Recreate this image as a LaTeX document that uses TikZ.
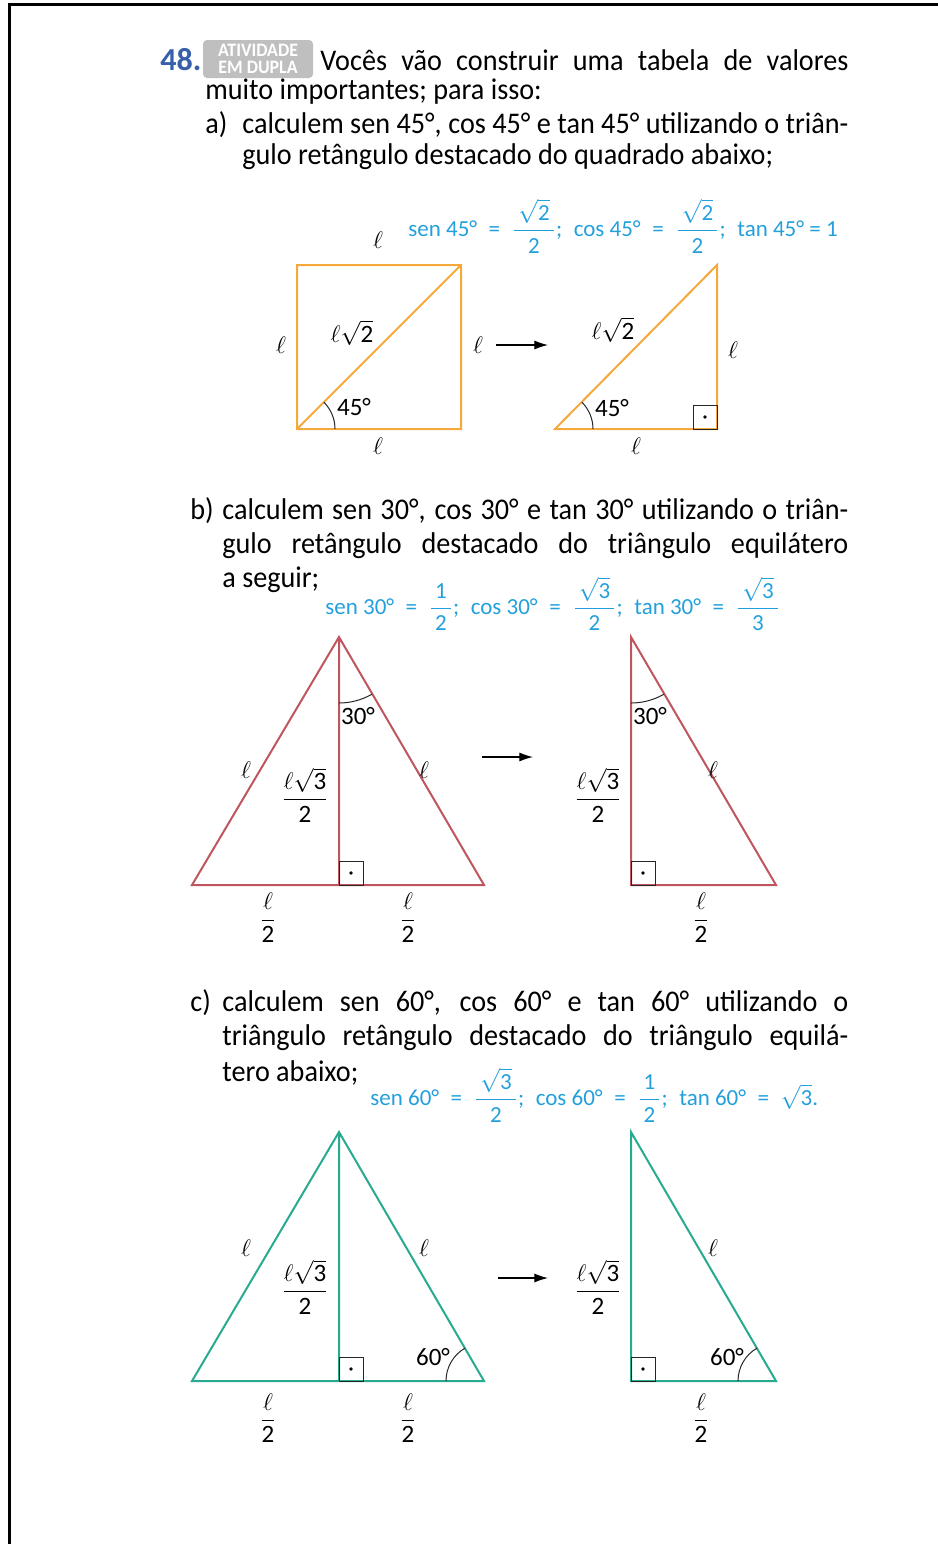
\documentclass[tikz,border=0pt]{standalone}
\usepackage{amsmath,amssymb}
\usepackage{fontspec}
\setmainfont{Carlito}
\newfontfamily\bodyfont{Carlito}[FakeStretch=0.94]
\usepackage{xcolor}
\usetikzlibrary{arrows.meta,positioning,calc}

\definecolor{ansblue}{RGB}{35,160,220}
\definecolor{numblue}{RGB}{55,95,170}
\definecolor{sqorange}{RGB}{245,168,60}
\definecolor{trired}{RGB}{190,85,95}
\definecolor{trigreen}{RGB}{40,170,145}
\newcommand{\jline}[2]{\makebox[#1][s]{\spaceskip=0.2em plus 1fil\relax #2}}
\newcommand{\ansfrac}[2]{\ensuremath{\dfrac{\,\text{#1}\,}{\text{#2}}}}
\newcommand{\rootof}[1]{\ensuremath{\sqrt{\text{#1}}}}
\newcommand{\eqsep}{\enspace=\enspace}
\newcommand{\halfl}{$\dfrac{\ell}{\text{2}}$}
\newcommand{\heightl}{$\dfrac{\ell\sqrt{\text{3}}}{\text{2}}$}

\begin{document}
\begin{tikzpicture}[x=0.5pt, y=-0.5pt,
    body/.style={anchor=west, inner sep=0pt, font=\bodyfont\fontsize{15}{18}\selectfont},
    answer/.style={anchor=west, inner sep=0pt, text=ansblue, font=\fontsize{11.5}{13}\selectfont},
    side/.style={inner sep=0pt, font=\fontsize{12.5}{14}\selectfont},
    square/.style={draw=sqorange, line width=1pt},
    redtri/.style={draw=trired, line width=1pt},
    greentri/.style={draw=trigreen, line width=1pt},
    anglearc/.style={draw=black!85, line width=0.5pt},
    rmark/.style={draw=black!85, line width=0.5pt},
    arrow/.style={-{Latex[length=2.4mm,width=1.6mm]}, line width=0.6pt}
]
\useasboundingbox (0,0) rectangle (938,1544);
\draw[line width=1.5pt] (9,1544) -- (9,4) -- (938,4);

\node[body, text=numblue, font=\fontsize{16}{18}\selectfont\bfseries] (num) at (160,60) {48.};
\node[fill=gray!50, rounded corners=2pt, minimum width=55pt, minimum height=19pt, inner sep=0.5pt,
      align=center, text=white, font=\bodyfont\fontsize{9.5}{8.5}\selectfont\bfseries] (badge) at (258,59) {ATIVIDADE\\EM DUPLA};
\node[body] (la1) at (320,60)  {\jline{264pt}{Vocês vão construir uma tabela de valores}};
\node[body] (la2) at (205,92)  {muito importantes; para isso:};
\node[body] (la3) at (205,125) {a)};
\node[body] (la4) at (242,125) {\jline{303pt}{calculem sen 45°, cos 45° e tan 45° utilizando o triân-}};
\node[body] (la5) at (242,157) {gulo retângulo destacado do quadrado abaixo;};
\node[answer] (ansa) at (408,226) {sen 45°\eqsep\ansfrac{\rootof{2}}{2};\enspace cos 45°\eqsep\ansfrac{\rootof{2}}{2};\enspace tan 45° = 1};

\coordinate (sqA) at (297,429);
\coordinate (sqB) at (461,429);
\coordinate (sqC) at (461,265);
\coordinate (sqD) at (297,265);
\draw[square] (sqA) -- (sqB) -- (sqC) -- (sqD) -- cycle (sqA) -- (sqC);
\draw[anglearc] (sqA) ++(19pt,0) arc[start angle=0, end angle=45, radius=19pt];
\node[side] (sqtop) at (378,240) {$\ell$};
\node[side] (sqleft) at (281,345) {$\ell$};
\node[side] (sqdiag) at (352,333) {$\ell\sqrt{\text{2}}$};
\node[side] (sqright) at (478,345) {$\ell$};
\node[side] (sqang) at (354,407) {45°};
\node[side] (sqbot) at (378,446) {$\ell$};

\coordinate (arA1) at (496,345);
\coordinate (arA2) at (548,345);
\draw[arrow] (arA1) -- (arA2);

\coordinate (tA) at (555,429);
\coordinate (tB) at (717,429);
\coordinate (tC) at (717,265);
\draw[square] (tA) -- (tB) -- (tC) -- cycle;
\draw[anglearc] (tA) ++(19pt,0) arc[start angle=0, end angle=45, radius=19pt];
\node[side] (tdiag) at (613,330) {$\ell\sqrt{\text{2}}$};
\node[side] (tright) at (733,350) {$\ell$};
\node[side] (tang) at (612,408) {45°};
\node[side] (tbot) at (636,446) {$\ell$};

\node[body] (lb1) at (190,511) {b)};
\node[body] (lb2) at (222,511) {\jline{313pt}{calculem sen 30°, cos 30° e tan 30° utilizando o triân-}};
\node[body] (lb3) at (222,546) {\jline{313pt}{gulo retângulo destacado do triângulo equilátero}};
\node[body] (lb4) at (222,580) {a seguir;};
\node[answer] (ansb) at (325,604) {sen 30°\eqsep\ansfrac{1}{2};\enspace cos 30°\eqsep\ansfrac{\rootof{3}}{2};\enspace tan 30°\eqsep\ansfrac{\rootof{3}}{3}};

\coordinate (bA) at (192,885);
\coordinate (bB) at (484,885);
\coordinate (bT) at (339,637);
\coordinate (bH) at (339,885);
\draw[redtri] (bA) -- (bB) -- (bT) -- cycle (bT) -- (bH);
\draw[anglearc] (bT) ++(-90:33pt) arc[start angle=-90, end angle=-60, radius=33pt];
\node[side] (bl1) at (246,770) {$\ell$};
\node[side] (bl2) at (424,770) {$\ell$};
\node[side] (bh) at (305,795) {\heightl};
\node[side] (bang) at (358,716) {30°};
\node[side] (bhalf1) at (268,918) {\halfl};
\node[side] (bhalf2) at (408,918) {\halfl};

\coordinate (arB1) at (482,757);
\coordinate (arB2) at (533,757);
\draw[arrow] (arB1) -- (arB2);

\coordinate (rbT) at (631,637);
\coordinate (rbH) at (631,885);
\coordinate (rbB) at (776,885);
\draw[redtri] (rbH) -- (rbB) -- (rbT) -- cycle;
\draw[anglearc] (rbT) ++(-90:33pt) arc[start angle=-90, end angle=-60, radius=33pt];
\node[side] (rbang) at (650,716) {30°};
\node[side] (rbl) at (713,770) {$\ell$};
\node[side] (rbh) at (598,795) {\heightl};
\node[side] (rbhalf) at (701,918) {\halfl};

\node[body] (lc1) at (190,1003) {c)};
\node[body] (lc2) at (222,1003) {\jline{313pt}{calculem sen 60°, cos 60° e tan 60° utilizando o}};
\node[body] (lc3) at (222,1038) {\jline{313pt}{triângulo retângulo destacado do triângulo equilá-}};
\node[body] (lc4) at (222,1073) {tero abaixo;};
\node[answer] (ansc) at (370,1095) {sen 60°\eqsep\ansfrac{\rootof{3}}{2};\enspace cos 60°\eqsep\ansfrac{1}{2};\enspace tan 60°\eqsep\rootof{3}.};

\coordinate (cA) at (192,1381);
\coordinate (cB) at (484,1381);
\coordinate (cT) at (339,1132);
\coordinate (cH) at (339,1381);
\draw[greentri] (cA) -- (cB) -- (cT) -- cycle (cT) -- (cH);
\draw[anglearc] (cB) ++(-19pt,0) arc[start angle=180, end angle=120, radius=19pt];
\node[side] (cl1) at (246,1248) {$\ell$};
\node[side] (cl2) at (424,1248) {$\ell$};
\node[side] (ch) at (305,1287) {\heightl};
\node[side] (cang) at (433,1357) {60°};
\node[side] (chalf1) at (268,1418) {\halfl};
\node[side] (chalf2) at (408,1418) {\halfl};

\coordinate (arC1) at (498,1278);
\coordinate (arC2) at (548,1278);
\draw[arrow] (arC1) -- (arC2);

\coordinate (rcT) at (631,1132);
\coordinate (rcH) at (631,1381);
\coordinate (rcB) at (776,1381);
\draw[greentri] (rcH) -- (rcB) -- (rcT) -- cycle;
\draw[anglearc] (rcB) ++(-19pt,0) arc[start angle=180, end angle=120, radius=19pt];
\node[side] (rcl) at (713,1248) {$\ell$};
\node[side] (rch) at (598,1287) {\heightl};
\node[side] (rcang) at (727,1357) {60°};
\node[side] (rchalf) at (701,1418) {\halfl};

\foreach \cx/\cy/\d in {339/885/1, 631/885/1, 339/1381/1, 631/1381/1, 717/429/-1} {
  \draw[rmark] (\cx,\cy) rectangle ++(24*\d,-24);
  \fill (\cx+12*\d,\cy-12) circle (0.9pt);
}
\end{tikzpicture}
\end{document}
